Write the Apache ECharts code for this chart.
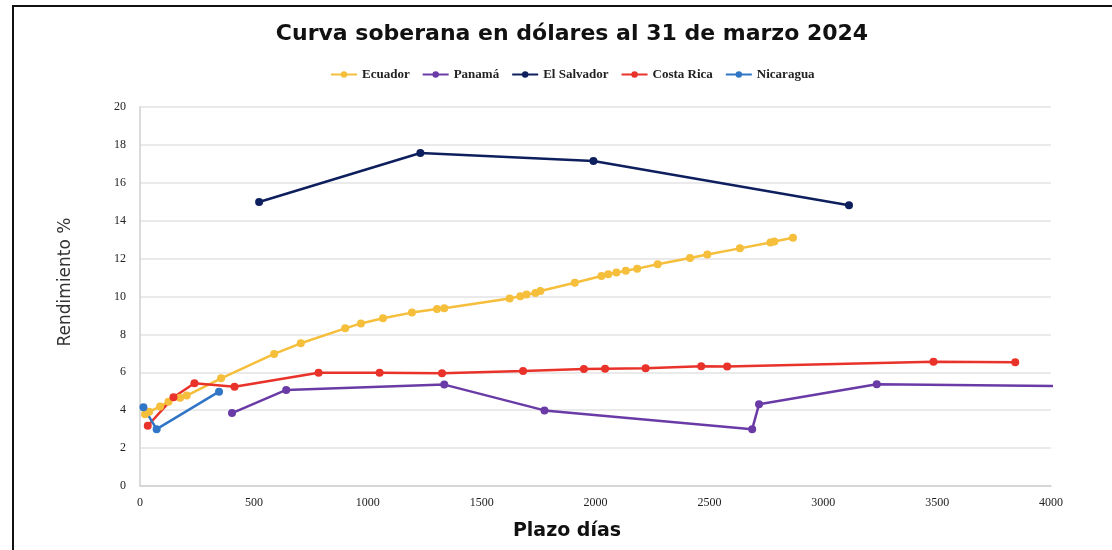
<!DOCTYPE html>
<html>
<head>
<meta charset="utf-8">
<script src="https://cdn.jsdelivr.net/npm/echarts@6/dist/echarts.min.js"></script>
<style>
  html, body { margin: 0; padding: 0; background: #fff; }
  #frame { position: absolute; left: 12px; top: 5px; width: 1100px; height: 545px;
           border-left: 2px solid #111; border-top: 2px solid #111; }
  #chart { width: 1112px; height: 550px; }
</style>
</head>
<body>
<div id="frame"></div>
<div id="chart"></div>
<script>
// plazo (días) y rendimiento (%) por país
const ecuadorDays = [22, 40, 88, 125, 176, 205, 356, 589, 706, 901, 970, 1067, 1194, 1304, 1336,
  1623, 1670, 1697, 1736, 1758, 1909, 2026, 2056, 2092, 2133, 2183, 2273, 2415, 2491, 2634, 2768, 2785, 2867];
const ecuadorYield = [3.78, 3.92, 4.19, 4.45, 4.66, 4.77, 5.68, 6.97, 7.53, 8.32, 8.58, 8.85, 9.15, 9.34, 9.38,
  9.9, 10.01, 10.11, 10.18, 10.29, 10.73, 11.08, 11.17, 11.26, 11.36, 11.47, 11.7, 12.03, 12.22, 12.54, 12.85, 12.9, 13.1];

const panamaDays = [404, 642, 1336, 1776, 2688, 2718, 3235, 4150];
const panamaYield = [3.85, 5.07, 5.35, 3.99, 3.0, 4.31, 5.37, 5.26];

const salvadorDays = [523, 1231, 1991, 3113];
const salvadorYield = [14.99, 17.57, 17.15, 14.81];

const costaRicaDays = [34, 147, 239, 415, 784, 1052, 1326, 1682, 1949, 2042, 2220, 2464, 2578, 3484, 3843];
const costaRicaYield = [3.18, 4.68, 5.42, 5.24, 5.98, 5.98, 5.95, 6.07, 6.17, 6.19, 6.21, 6.32, 6.3, 6.56, 6.53];

const nicaraguaDays = [15, 73, 347];
const nicaraguaYield = [4.15, 3.0, 4.98];

const pair = (xs, ys) => xs.map((x, i) => [x, ys[i]]);

const serieLinea = (name, color, xs, ys) => ({
  name: name,
  type: "line",
  data: pair(xs, ys),
  symbol: "circle",
  symbolSize: 8,
  clip: true,
  lineStyle: { width: 2.5, color: color },
  itemStyle: { color: color },
});

const chart = echarts.init(document.getElementById("chart"));
chart.setOption({
  animation: false,
  title: {
    text: "Curva soberana en dólares al 31 de marzo 2024",
    left: 567,
    top: 18,
    textAlign: "center",
    textStyle: { fontFamily: "DejaVu Sans", fontWeight: "bold", fontSize: 22, color: "#111" },
  },
  legend: {
    top: 63,
    left: 325,
    itemWidth: 26,
    itemHeight: 8,
    itemGap: 12,
    textStyle: { fontFamily: "Liberation Serif", fontWeight: "bold", fontSize: 13, color: "#222" },
    data: ["Ecuador", "Panamá", "El Salvador", "Costa Rica", "Nicaragua"],
  },
  grid: { left: 140, right: 61, top: 107, bottom: 64 },
  graphic: [
    {
      type: "text",
      x: 66,
      y: 282,
      rotation: Math.PI / 2,
      style: {
        text: "Rendimiento %",
        font: "17px 'DejaVu Sans'",
        fill: "#333",
        align: "center",
        verticalAlign: "middle",
      },
    },
    {
      type: "text",
      x: 567,
      y: 531,
      style: {
        text: "Plazo días",
        font: "bold 19px 'DejaVu Sans'",
        fill: "#111",
        align: "center",
        verticalAlign: "middle",
      },
    },
  ],
  xAxis: {
    type: "value",
    min: 0,
    max: 4000,
    interval: 500,
    axisLine: { lineStyle: { color: "#cfcfcf", width: 1.5 } },
    axisTick: { show: false },
    splitLine: { show: false },
    axisLabel: {
      fontFamily: "Liberation Serif",
      fontSize: 12,
      color: "#222",
      margin: 11,
      formatter: (v) => String(v),
    },
  },
  yAxis: {
    type: "value",
    min: 0,
    max: 20,
    interval: 2,
    axisLine: { show: true, lineStyle: { color: "#cfcfcf", width: 1.5 } },
    axisTick: { show: false },
    splitLine: { lineStyle: { color: "#e3e3e3", width: 1.5 } },
    axisLabel: { fontFamily: "Liberation Serif", fontSize: 12, color: "#222", margin: 14 },
  },
  series: [
    serieLinea("Ecuador", "#F5BE3B", ecuadorDays, ecuadorYield),
    serieLinea("Panamá", "#6A3BA6", panamaDays, panamaYield),
    serieLinea("El Salvador", "#0E1F5E", salvadorDays, salvadorYield),
    serieLinea("Costa Rica", "#E8322A", costaRicaDays, costaRicaYield),
    serieLinea("Nicaragua", "#3176C6", nicaraguaDays, nicaraguaYield),
  ],
});
</script>
</body>
</html>
